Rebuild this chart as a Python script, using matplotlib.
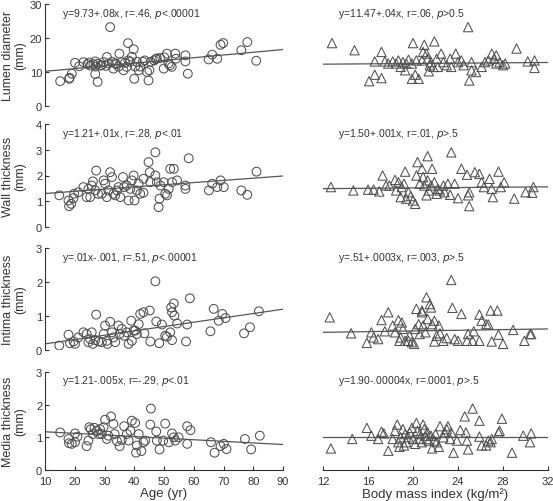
import numpy as np
import matplotlib
matplotlib.use('Agg')
import matplotlib.pyplot as plt

plt.rcParams['font.family'] = ['Liberation Sans Narrow', 'Liberation Sans', 'DejaVu Sans']
plt.rcParams['mathtext.fontset'] = 'custom'
plt.rcParams['mathtext.it'] = 'Liberation Sans Narrow:italic'
plt.rcParams['mathtext.rm'] = 'Liberation Sans Narrow'

## Left column: age (yr) vs. measurement
lum_age = [15.1, 18.1, 18.3, 19.0, 20.1, 21.5, 22.9, 24.3, 24.8, 25.2, 26.3, 26.9, 26.9, 27.7, 26.9, 27.7,
           28.6, 29.0, 29.7, 30.5, 30.8, 31.9, 31.4, 32.5, 33.0, 33.6, 33.9, 34.7, 35.0, 35.8, 36.4, 36.9,
           37.5, 37.9, 38.0, 38.6, 39.2, 39.8, 40.0, 40.3, 40.9, 41.5, 42.0, 42.9, 43.5, 44.3, 44.8, 45.1,
           45.5, 46.7, 47.2, 47.6, 48.7, 49.9, 50.1, 51.0, 51.5, 52.0, 52.6, 53.8, 54.0, 57.2, 57.2, 58.0,
           65.0, 66.2, 67.9, 69.0, 69.9, 76.0, 78.0, 81.0]
lum_val = [7.3, 8.0, 8.3, 9.5, 12.7, 11.7, 12.9, 12.3, 12.8, 11.9, 12.3, 13.1, 11.6, 12.4, 9.4, 7.1,
           11.9, 12.0, 12.9, 11.8, 14.4, 23.2, 12.5, 13.0, 11.0, 12.6, 12.3, 11.6, 15.4, 12.9, 10.5, 12.7,
           11.5, 18.5, 13.4, 13.0, 14.5, 16.7, 8.0, 11.6, 13.0, 10.5, 11.6, 13.0, 13.4, 10.0, 7.5, 10.5,
           13.0, 13.4, 13.8, 14.0, 14.1, 11.0, 14.3, 15.4, 12.5, 12.0, 11.5, 15.4, 13.9, 14.9, 13.1, 9.5,
           13.7, 15.1, 13.9, 18.0, 18.5, 16.4, 18.8, 13.3]

wall_age = [14.8, 17.9, 18.1, 18.8, 19.6, 19.8, 21.2, 22.9, 24.0, 24.6, 25.2, 25.7, 26.1, 26.9, 27.2, 27.8,
            29.1, 29.7, 30.2, 30.8, 31.3, 31.9, 32.5, 33.0, 33.6, 34.2, 34.7, 35.3, 36.2, 36.6, 37.5, 38.1,
            38.7, 39.2, 39.8, 40.1, 40.9, 41.5, 42.0, 43.1, 43.1, 44.8, 45.2, 45.4, 47.1, 47.1, 47.6, 48.5,
            48.2, 48.8, 49.9, 50.4, 51.0, 51.6, 52.1, 52.7, 53.3, 54.4, 57.2, 57.2, 58.3, 65.1, 66.2, 67.9,
            69.0, 70.1, 76.0, 78.0, 81.1]
wall_val = [1.23, 1.03, 0.81, 0.90, 1.12, 1.29, 1.35, 1.55, 1.16, 1.48, 1.16, 1.61, 1.77, 1.42, 2.19, 1.29,
            1.29, 1.81, 1.68, 1.16, 1.42, 2.13, 1.94, 1.29, 1.23, 1.42, 1.55, 1.16, 1.94, 1.55, 1.61, 1.03,
            1.48, 1.81, 2.00, 1.03, 1.42, 1.68, 1.29, 1.33, 1.87, 2.52, 2.13, 1.74, 2.90, 2.00, 1.74, 1.10,
            0.77, 1.61, 1.74, 1.29, 1.23, 1.48, 2.26, 1.74, 2.26, 1.81, 1.61, 1.48, 2.67, 1.42, 1.68, 1.55,
            1.81, 1.55, 1.42, 1.25, 2.15]

int_age = [14.8, 17.9, 18.4, 19.6, 20.1, 21.2, 22.9, 24.0, 24.6, 25.2, 25.7, 26.1, 26.9, 27.2, 28.0, 29.1,
           29.7, 30.2, 30.8, 31.0, 31.9, 32.5, 33.0, 33.6, 34.7, 35.1, 35.8, 36.6, 37.5, 38.1, 39.0, 39.2,
           39.8, 40.3, 40.9, 41.5, 42.0, 43.1, 43.4, 45.2, 45.4, 47.1, 47.4, 48.4, 49.3, 50.4, 51.0, 52.1,
           52.4, 52.7, 53.3, 53.5, 52.7, 54.4, 57.4, 57.8, 58.7, 65.6, 66.7, 68.4, 69.6, 70.7, 76.9, 78.9,
           81.9]
int_val = [0.13, 0.45, 0.20, 0.25, 0.18, 0.37, 0.52, 0.47, 0.23, 0.32, 0.52, 0.18, 0.29, 1.04, 0.25, 0.23,
           0.47, 0.72, 0.27, 0.18, 0.83, 0.52, 0.37, 0.23, 0.72, 0.47, 0.62, 0.42, 0.52, 0.18, 0.86, 0.27,
           0.57, 0.57, 0.47, 0.76, 1.06, 1.11, 0.49, 1.16, 0.25, 2.02, 0.84, 0.20, 0.75, 0.42, 0.39, 0.52,
           1.25, 1.11, 1.37, 1.01, 0.29, 0.78, 0.25, 0.75, 1.52, 0.55, 1.21, 0.86, 1.06, 0.94, 0.49, 0.67,
           1.14]

med_age = [15.1, 17.9, 18.1, 19.0, 20.1, 20.1, 20.9, 24.0, 24.6, 24.9, 25.4, 26.1, 26.6, 27.4, 28.0, 28.5,
           29.1, 29.7, 30.2, 30.8, 31.3, 32.2, 33.0, 33.4, 34.2, 35.1, 35.8, 36.6, 37.5, 38.1, 38.7, 39.2,
           40.3, 40.6, 40.9, 41.5, 42.4, 43.1, 43.7, 45.4, 45.6, 47.4, 47.6, 48.5, 49.7, 50.4, 51.6, 52.7,
           53.3, 53.8, 54.9, 57.8, 57.8, 58.9, 65.8, 67.0, 69.0, 70.1, 71.0, 77.2, 79.3, 82.2]
med_val = [1.15, 0.95, 0.82, 0.80, 0.85, 1.12, 1.02, 0.73, 0.90, 1.31, 1.25, 1.10, 1.29, 1.20, 1.10, 1.25,
           1.10, 1.31, 1.54, 0.95, 1.05, 1.64, 1.41, 1.10, 0.88, 0.73, 0.92, 1.34, 1.10, 0.90, 1.20, 1.51,
           1.44, 0.53, 0.75, 1.10, 0.58, 0.85, 0.90, 1.39, 1.88, 1.18, 0.90, 0.63, 0.90, 1.42, 0.85, 1.12,
           1.00, 0.90, 1.00, 1.34, 0.80, 1.22, 0.85, 0.53, 0.73, 0.80, 0.64, 0.95, 0.63, 1.05]

## Right column: body mass index vs. measurement
lum_bmi = [12.8, 14.8, 17.2, 16.6, 17.5, 16.6, 16.1, 17.2, 17.8, 18.2, 18.5, 18.7, 18.9, 19.1, 19.3, 19.4,
           19.6, 19.9, 19.9, 20.2, 20.3, 20.5, 20.0, 20.8, 20.9, 21.0, 21.2, 21.3, 21.4, 21.5, 21.6, 21.8,
           21.9, 22.1, 22.2, 22.5, 22.7, 23.0, 23.3, 23.4, 23.8, 24.0, 24.3, 24.5, 24.9, 25.0, 25.2, 25.2,
           25.6, 26.1, 26.4, 26.7, 27.0, 27.2, 27.4, 27.4, 27.7, 28.0, 28.2, 29.2, 30.2, 30.8, 30.8]
lum_bval = [18.5, 16.4, 15.9, 13.1, 13.1, 9.2, 7.3, 8.2, 12.5, 13.1, 12.5, 13.4, 11.5, 12.9, 10.5, 12.5,
            13.6, 12.5, 8.0, 9.2, 13.4, 8.0, 18.5, 13.4, 15.9, 18.0, 15.4, 13.9, 10.2, 12.0, 12.9, 11.5,
            19.0, 13.9, 11.5, 15.4, 12.9, 12.0, 13.9, 11.5, 15.4, 12.9, 13.4, 12.0, 23.2, 7.5, 12.9, 10.5,
            10.0, 11.5, 12.9, 13.4, 15.4, 13.9, 14.9, 12.5, 12.9, 12.0, 12.5, 16.9, 13.1, 13.4, 11.2]

wall_bmi = [12.7, 14.7, 16.0, 16.5, 17.0, 17.3, 17.6, 17.9, 18.4, 18.5, 18.7, 18.9, 19.0, 19.2, 19.3, 19.4,
            19.6, 19.8, 20.0, 20.2, 20.3, 20.4, 20.6, 20.8, 20.9, 21.0, 21.2, 21.3, 21.3, 21.4, 21.6, 21.7,
            21.9, 22.1, 22.2, 22.4, 22.7, 22.8, 23.1, 23.3, 23.4, 23.7, 24.0, 24.3, 24.8, 24.9, 25.0, 25.0,
            25.5, 25.9, 26.1, 26.3, 26.8, 27.0, 27.1, 27.6, 27.8, 28.1, 29.0, 30.0, 30.6, 30.7]
wall_bval = [1.55, 1.42, 1.45, 1.45, 1.38, 2.00, 1.61, 1.61, 1.83, 1.42, 1.74, 1.16, 1.55, 1.68, 2.15, 1.10,
             1.35, 1.20, 1.03, 0.90, 2.00, 2.52, 1.68, 2.26, 1.94, 1.61, 1.23, 2.75, 1.81, 1.42, 1.61, 2.26,
             1.74, 1.29, 1.48, 1.42, 1.61, 1.35, 1.68, 1.25, 2.90, 1.68, 1.12, 2.26, 2.03, 1.23, 1.35, 0.81,
             2.13, 2.06, 1.74, 1.55, 1.87, 1.48, 1.16, 2.15, 1.55, 1.74, 1.10, 1.35, 1.33, 1.55]

int_bmi = [12.6, 14.5, 15.9, 16.3, 16.5, 16.9, 17.2, 17.5, 17.8, 18.2, 18.4, 18.7, 18.8, 18.9, 19.0, 19.1,
           19.3, 19.6, 19.7, 19.9, 20.1, 20.2, 20.3, 20.5, 20.8, 20.6, 20.8, 20.9, 21.1, 21.2, 21.3, 21.5,
           21.6, 21.7, 21.9, 21.9, 22.1, 22.3, 22.4, 22.7, 23.0, 23.4, 23.5, 23.7, 24.0, 24.3, 24.8, 24.9,
           25.3, 25.4, 25.9, 25.9, 26.1, 26.5, 26.7, 26.9, 27.0, 27.5, 27.6, 28.0, 28.9, 29.9, 30.4, 30.5]
int_bval = [0.96, 0.49, 0.21, 0.52, 0.37, 0.32, 0.88, 0.55, 1.11, 0.72, 0.52, 0.88, 0.27, 0.37, 0.81, 0.62,
            0.27, 0.27, 0.42, 0.23, 0.18, 0.62, 1.21, 0.76, 1.16, 0.47, 1.11, 0.72, 0.52, 1.55, 0.91, 1.35,
            1.25, 0.76, 0.86, 0.25, 0.42, 0.72, 0.49, 0.27, 0.35, 2.06, 1.24, 0.32, 0.27, 1.06, 0.27, 0.47,
            0.27, 0.55, 0.27, 1.04, 0.86, 0.76, 0.75, 1.16, 0.25, 1.16, 0.45, 0.18, 0.59, 0.27, 0.47, 0.47]

med_bmi = [12.7, 14.6, 15.9, 16.3, 16.9, 17.2, 17.4, 17.8, 18.2, 18.4, 18.6, 18.7, 18.8, 18.9, 19.1, 19.2,
           19.3, 19.4, 19.6, 19.7, 19.9, 20.0, 20.2, 20.3, 20.4, 20.6, 20.6, 20.8, 20.9, 21.0, 21.1, 21.2,
           21.3, 21.4, 21.6, 21.7, 21.9, 22.0, 22.1, 22.3, 22.4, 22.7, 22.8, 23.0, 23.1, 23.3, 23.4, 23.6,
           23.9, 24.2, 24.6, 24.7, 24.8, 24.9, 25.3, 25.9, 25.9, 26.1, 26.5, 26.7, 26.9, 27.0, 27.6, 27.7,
           27.9, 28.8, 29.8, 30.5, 30.4]
med_bval = [0.66, 0.95, 1.29, 1.05, 0.95, 1.17, 1.12, 0.59, 0.95, 1.20, 1.39, 0.85, 0.71, 1.00, 1.25, 0.75,
            1.10, 0.85, 1.00, 1.15, 1.29, 0.95, 0.80, 1.44, 1.20, 0.95, 1.10, 0.85, 1.39, 1.25, 1.05, 0.95,
            1.15, 0.90, 1.05, 0.66, 0.90, 1.10, 0.85, 0.71, 1.34, 1.00, 1.15, 1.25, 1.34, 0.95, 1.15, 0.53,
            0.90, 1.22, 1.64, 1.15, 0.90, 0.63, 1.88, 1.51, 1.02, 0.75, 0.75, 0.90, 0.85, 0.95, 1.15, 1.20,
            1.57, 0.53, 1.05, 1.12, 0.85]

## Regression lines as drawn (value at the two x-limits)
age_fit = [[10.2, 16.6], [1.30, 1.98], [0.18, 1.20], [1.17, 0.78]]
bmi_fit = [[12.3, 12.8], [1.49, 1.56], [0.52, 0.62], [1.02, 1.02]]

ylabels = ['Lumen diameter\n(mm)', 'Wall thickness\n(mm)', 'Intima thickness\n(mm)', 'Media thickness\n(mm)']
ylims = [30, 4, 3, 3]
yticks = [[0, 10, 20, 30], [0, 1, 2, 3, 4], [0, 1, 2, 3], [0, 1, 2, 3]]
age_txt = ['y=9.73+.08x, r=.46, $\\it{p}$<.00001', 'y=1.21+.01x, r=.28, $\\it{p}$<.01',
           'y=.01x-.001, r=.51, $\\it{p}$<.00001', 'y=1.21-.005x, r=-.29, $\\it{p}$<.01']
bmi_txt = ['y=11.47+.04x, r=.06, $\\it{p}$>0.5', 'y=1.50+.001x, r=.01, $\\it{p}$>.5',
           'y=.51+.0003x, r=.003, $\\it{p}$>.5', 'y=1.90-.00004x, r=.0001, $\\it{p}$>.5']

age_x = [lum_age, wall_age, int_age, med_age]
age_y = [lum_val, wall_val, int_val, med_val]
bmi_x = [lum_bmi, wall_bmi, int_bmi, med_bmi]
bmi_y = [lum_bval, wall_bval, int_bval, med_bval]

W, H = 553, 502
fig = plt.figure(figsize=(W / 100, H / 100), dpi=100)

rows = [(5, 107), (125, 228), (249, 351), (373, 471)]  # top/bottom in px
ink = '#333333'
mk = '#505050'

for i, (top, bot) in enumerate(rows):
    last = i == 3
    axL = fig.add_axes([45 / W, 1 - bot / H, 238 / W, (bot - top) / H])
    axR = fig.add_axes([323 / W, 1 - bot / H, 225 / W, (bot - top) / H])

    axL.scatter(age_x[i], age_y[i], s=40, facecolors='none', edgecolors=mk, linewidths=0.75, marker='o')
    axL.plot([10, 90], age_fit[i], color='#555555', lw=0.9)
    axR.scatter(bmi_x[i], bmi_y[i], s=45, facecolors='none', edgecolors=mk, linewidths=0.75, marker='^')
    axR.plot([12, 32], bmi_fit[i], color='#555555', lw=0.9)

    axL.set_xlim(10, 90)
    axR.set_xlim(12, 32)
    for ax in (axL, axR):
        ax.set_ylim(0, ylims[i])
        ax.spines['top'].set_visible(False)
        ax.spines['right'].set_visible(False)
        ax.tick_params(direction='in', length=3, width=0.8, colors=ink, labelsize=8, pad=2)
        ax.tick_params(axis='x', pad=4)
        for s in ax.spines.values():
            s.set_color(ink)
            s.set_linewidth(0.8)
    axL.set_yticks(yticks[i])
    axR.spines['left'].set_visible(False)
    axR.set_yticks([])
    axL.set_ylabel(ylabels[i], fontsize=9, color=ink, linespacing=0.95,
                   family=['Liberation Sans', 'DejaVu Sans'])
    axL.yaxis.set_label_coords(-0.08, 0.5)

    axL.text(0.07, 0.985, age_txt[i], transform=axL.transAxes, ha='left', va='top', fontsize=7.5, color=ink)
    axR.text(0.067, 0.985, bmi_txt[i], transform=axR.transAxes, ha='left', va='top', fontsize=7.5, color=ink)

    if last:
        axL.set_xticks(range(10, 91, 10))
        axR.set_xticks(range(12, 33, 4))
        axL.set_xlabel('Age (yr)', fontsize=9.5, color=ink, labelpad=1)
        axR.set_xlabel('Body mass index (kg/m²)', fontsize=9.5, color=ink, labelpad=1)
    else:
        for ax in (axL, axR):
            ax.spines['bottom'].set_visible(False)
            ax.set_xticks([])

fig.savefig('out.png', dpi=100)
